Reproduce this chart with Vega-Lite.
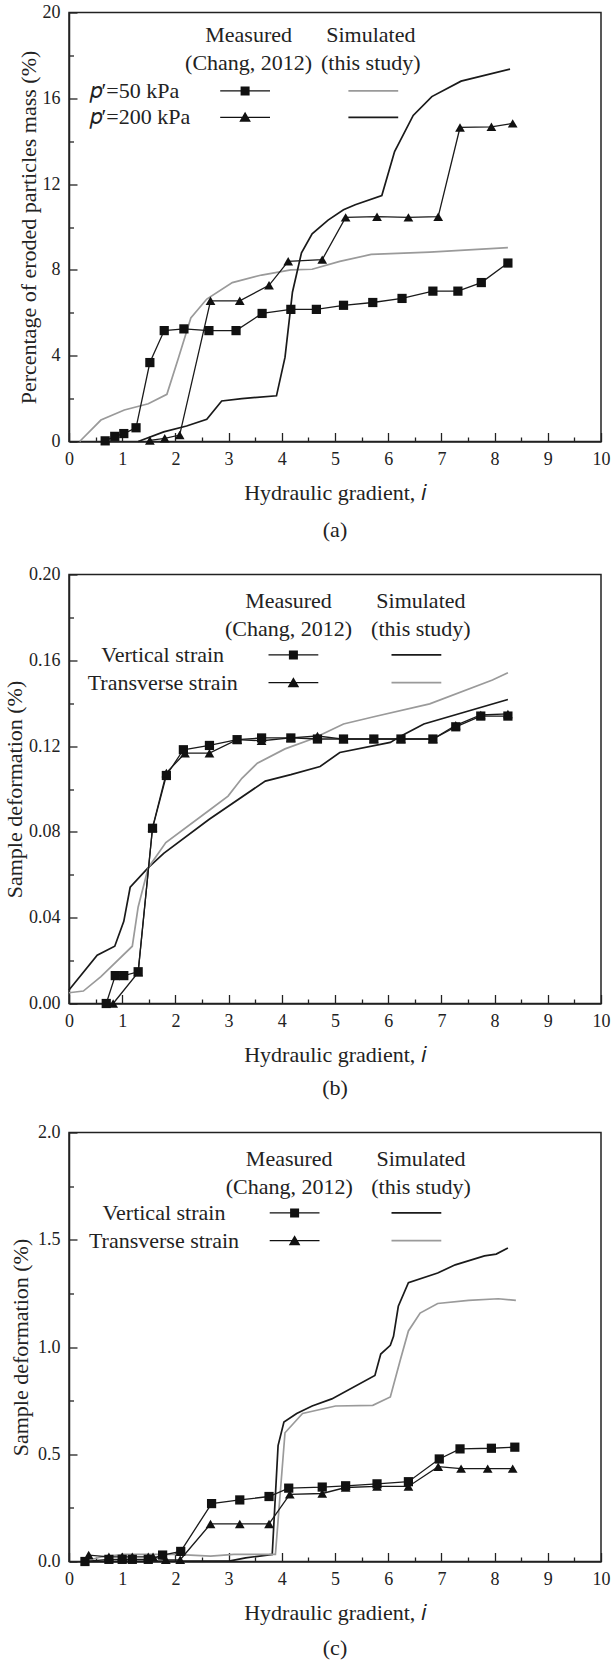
{
  "$schema": "https://vega.github.io/schema/vega-lite/v6.json",
  "background": "white",
  "padding": {"left": 2, "top": 2.5, "right": 0, "bottom": 0},
  "spacing": 23,
  "config": {
    "font": "Liberation Serif",
    "view": {"stroke": "#222", "strokeWidth": 1.5},
    "axis": {
      "labelFont": "Liberation Serif", "labelFontSize": 18, "labelColor": "#222",
      "titleFont": "Liberation Serif", "titleFontSize": 22, "titleFontWeight": "normal", "titleColor": "#222",
      "grid": false, "domainColor": "#222", "domainWidth": 1.5,
      "tickColor": "#222", "tickWidth": 1.3,
      "labelFlush": false, "labelOverlap": false
    },
    "axisX": {"tickSize": -9, "labelPadding": 18},
    "axisY": {"tickSize": -8, "labelPadding": 17},
    "legend": {
      "labelFont": "Liberation Serif", "labelFontSize": 22, "labelColor": "#222", "labelLimit": 300,
      "titleFont": "Liberation Serif", "titleFontSize": 22, "titleFontWeight": "normal", "titleColor": "#222",
      "padding": 0, "orient": "none", "symbolSize": 400
    },
    "title": {"font": "Liberation Serif", "fontSize": 22, "fontWeight": "normal", "color": "#222", "orient": "bottom", "offset": 14}
  },
  "resolve": {"scale": {"color": "independent", "shape": "independent", "strokeDash": "independent", "fill": "independent"}},
  "datasets": {
    "d": [
      {"panel":"a","kind":"sim","series":"𝑝′=50 kPa","x":0.2,"y":0},
      {"panel":"a","kind":"sim","series":"𝑝′=50 kPa","x":0.6,"y":1.0},
      {"panel":"a","kind":"sim","series":"𝑝′=50 kPa","x":1.04,"y":1.47},
      {"panel":"a","kind":"sim","series":"𝑝′=50 kPa","x":1.49,"y":1.76},
      {"panel":"a","kind":"sim","series":"𝑝′=50 kPa","x":1.84,"y":2.2},
      {"panel":"a","kind":"sim","series":"𝑝′=50 kPa","x":2.06,"y":3.92},
      {"panel":"a","kind":"sim","series":"𝑝′=50 kPa","x":2.29,"y":5.76},
      {"panel":"a","kind":"sim","series":"𝑝′=50 kPa","x":2.59,"y":6.64},
      {"panel":"a","kind":"sim","series":"𝑝′=50 kPa","x":3.07,"y":7.41},
      {"panel":"a","kind":"sim","series":"𝑝′=50 kPa","x":3.62,"y":7.76},
      {"panel":"a","kind":"sim","series":"𝑝′=50 kPa","x":4.17,"y":8.0},
      {"panel":"a","kind":"sim","series":"𝑝′=50 kPa","x":4.57,"y":8.03},
      {"panel":"a","kind":"sim","series":"𝑝′=50 kPa","x":5.09,"y":8.4},
      {"panel":"a","kind":"sim","series":"𝑝′=50 kPa","x":5.68,"y":8.72},
      {"panel":"a","kind":"sim","series":"𝑝′=50 kPa","x":6.78,"y":8.83},
      {"panel":"a","kind":"sim","series":"𝑝′=50 kPa","x":8.25,"y":9.04},
      {"panel":"a","kind":"sim","series":"𝑝′=200 kPa","x":1.3,"y":0},
      {"panel":"a","kind":"sim","series":"𝑝′=200 kPa","x":1.78,"y":0.45},
      {"panel":"a","kind":"sim","series":"𝑝′=200 kPa","x":2.21,"y":0.72},
      {"panel":"a","kind":"sim","series":"𝑝′=200 kPa","x":2.59,"y":1.04},
      {"panel":"a","kind":"sim","series":"𝑝′=200 kPa","x":2.87,"y":1.89},
      {"panel":"a","kind":"sim","series":"𝑝′=200 kPa","x":3.25,"y":2.0},
      {"panel":"a","kind":"sim","series":"𝑝′=200 kPa","x":3.9,"y":2.13},
      {"panel":"a","kind":"sim","series":"𝑝′=200 kPa","x":4.06,"y":3.92},
      {"panel":"a","kind":"sim","series":"𝑝′=200 kPa","x":4.2,"y":6.96},
      {"panel":"a","kind":"sim","series":"𝑝′=200 kPa","x":4.37,"y":8.8},
      {"panel":"a","kind":"sim","series":"𝑝′=200 kPa","x":4.57,"y":9.68},
      {"panel":"a","kind":"sim","series":"𝑝′=200 kPa","x":4.87,"y":10.32},
      {"panel":"a","kind":"sim","series":"𝑝′=200 kPa","x":5.16,"y":10.8},
      {"panel":"a","kind":"sim","series":"𝑝′=200 kPa","x":5.38,"y":11.04},
      {"panel":"a","kind":"sim","series":"𝑝′=200 kPa","x":5.88,"y":11.47},
      {"panel":"a","kind":"sim","series":"𝑝′=200 kPa","x":6.12,"y":13.52},
      {"panel":"a","kind":"sim","series":"𝑝′=200 kPa","x":6.47,"y":15.2},
      {"panel":"a","kind":"sim","series":"𝑝′=200 kPa","x":6.82,"y":16.08},
      {"panel":"a","kind":"sim","series":"𝑝′=200 kPa","x":7.37,"y":16.8},
      {"panel":"a","kind":"sim","series":"𝑝′=200 kPa","x":8.29,"y":17.36},
      {"panel":"a","kind":"meas","series":"𝑝′=50 kPa","x":0.68,"y":0.03},
      {"panel":"a","kind":"meas","series":"𝑝′=50 kPa","x":0.86,"y":0.24},
      {"panel":"a","kind":"meas","series":"𝑝′=50 kPa","x":1.03,"y":0.37},
      {"panel":"a","kind":"meas","series":"𝑝′=50 kPa","x":1.26,"y":0.64},
      {"panel":"a","kind":"meas","series":"𝑝′=50 kPa","x":1.52,"y":3.68},
      {"panel":"a","kind":"meas","series":"𝑝′=50 kPa","x":1.79,"y":5.17},
      {"panel":"a","kind":"meas","series":"𝑝′=50 kPa","x":2.16,"y":5.25},
      {"panel":"a","kind":"meas","series":"𝑝′=50 kPa","x":2.63,"y":5.17},
      {"panel":"a","kind":"meas","series":"𝑝′=50 kPa","x":3.14,"y":5.17},
      {"panel":"a","kind":"meas","series":"𝑝′=50 kPa","x":3.63,"y":5.97},
      {"panel":"a","kind":"meas","series":"𝑝′=50 kPa","x":4.17,"y":6.16},
      {"panel":"a","kind":"meas","series":"𝑝′=50 kPa","x":4.65,"y":6.16},
      {"panel":"a","kind":"meas","series":"𝑝′=50 kPa","x":5.16,"y":6.35},
      {"panel":"a","kind":"meas","series":"𝑝′=50 kPa","x":5.71,"y":6.48},
      {"panel":"a","kind":"meas","series":"𝑝′=50 kPa","x":6.26,"y":6.67},
      {"panel":"a","kind":"meas","series":"𝑝′=50 kPa","x":6.84,"y":7.01},
      {"panel":"a","kind":"meas","series":"𝑝′=50 kPa","x":7.31,"y":7.01},
      {"panel":"a","kind":"meas","series":"𝑝′=50 kPa","x":7.75,"y":7.41},
      {"panel":"a","kind":"meas","series":"𝑝′=50 kPa","x":8.25,"y":8.32},
      {"panel":"a","kind":"meas","series":"𝑝′=200 kPa","x":1.52,"y":0.05},
      {"panel":"a","kind":"meas","series":"𝑝′=200 kPa","x":1.8,"y":0.15},
      {"panel":"a","kind":"meas","series":"𝑝′=200 kPa","x":2.08,"y":0.3},
      {"panel":"a","kind":"meas","series":"𝑝′=200 kPa","x":2.66,"y":6.56},
      {"panel":"a","kind":"meas","series":"𝑝′=200 kPa","x":3.21,"y":6.56},
      {"panel":"a","kind":"meas","series":"𝑝′=200 kPa","x":3.76,"y":7.28},
      {"panel":"a","kind":"meas","series":"𝑝′=200 kPa","x":4.12,"y":8.4},
      {"panel":"a","kind":"meas","series":"𝑝′=200 kPa","x":4.76,"y":8.48},
      {"panel":"a","kind":"meas","series":"𝑝′=200 kPa","x":5.2,"y":10.45},
      {"panel":"a","kind":"meas","series":"𝑝′=200 kPa","x":5.79,"y":10.48},
      {"panel":"a","kind":"meas","series":"𝑝′=200 kPa","x":6.38,"y":10.45},
      {"panel":"a","kind":"meas","series":"𝑝′=200 kPa","x":6.94,"y":10.48},
      {"panel":"a","kind":"meas","series":"𝑝′=200 kPa","x":7.35,"y":14.64},
      {"panel":"a","kind":"meas","series":"𝑝′=200 kPa","x":7.94,"y":14.67},
      {"panel":"a","kind":"meas","series":"𝑝′=200 kPa","x":8.34,"y":14.83},

      {"panel":"b","kind":"sim","series":"Vertical strain","x":0,"y":0.0063},
      {"panel":"b","kind":"sim","series":"Vertical strain","x":0.53,"y":0.0225},
      {"panel":"b","kind":"sim","series":"Vertical strain","x":0.86,"y":0.0267},
      {"panel":"b","kind":"sim","series":"Vertical strain","x":1.03,"y":0.0383},
      {"panel":"b","kind":"sim","series":"Vertical strain","x":1.15,"y":0.0542},
      {"panel":"b","kind":"sim","series":"Vertical strain","x":1.49,"y":0.0633},
      {"panel":"b","kind":"sim","series":"Vertical strain","x":1.78,"y":0.07},
      {"panel":"b","kind":"sim","series":"Vertical strain","x":2.63,"y":0.0858},
      {"panel":"b","kind":"sim","series":"Vertical strain","x":3.69,"y":0.1037},
      {"panel":"b","kind":"sim","series":"Vertical strain","x":4.17,"y":0.1067},
      {"panel":"b","kind":"sim","series":"Vertical strain","x":4.72,"y":0.1105},
      {"panel":"b","kind":"sim","series":"Vertical strain","x":5.09,"y":0.117},
      {"panel":"b","kind":"sim","series":"Vertical strain","x":6.04,"y":0.1217},
      {"panel":"b","kind":"sim","series":"Vertical strain","x":6.26,"y":0.125},
      {"panel":"b","kind":"sim","series":"Vertical strain","x":6.67,"y":0.1303},
      {"panel":"b","kind":"sim","series":"Vertical strain","x":8.25,"y":0.1417},
      {"panel":"b","kind":"sim","series":"Transverse strain","x":0,"y":0.005},
      {"panel":"b","kind":"sim","series":"Transverse strain","x":0.27,"y":0.0058},
      {"panel":"b","kind":"sim","series":"Transverse strain","x":0.6,"y":0.0125},
      {"panel":"b","kind":"sim","series":"Transverse strain","x":1.19,"y":0.0267},
      {"panel":"b","kind":"sim","series":"Transverse strain","x":1.3,"y":0.045},
      {"panel":"b","kind":"sim","series":"Transverse strain","x":1.49,"y":0.0633},
      {"panel":"b","kind":"sim","series":"Transverse strain","x":1.82,"y":0.075},
      {"panel":"b","kind":"sim","series":"Transverse strain","x":2.63,"y":0.09},
      {"panel":"b","kind":"sim","series":"Transverse strain","x":2.99,"y":0.0967},
      {"panel":"b","kind":"sim","series":"Transverse strain","x":3.25,"y":0.105},
      {"panel":"b","kind":"sim","series":"Transverse strain","x":3.54,"y":0.112},
      {"panel":"b","kind":"sim","series":"Transverse strain","x":4.06,"y":0.1187},
      {"panel":"b","kind":"sim","series":"Transverse strain","x":4.57,"y":0.1233},
      {"panel":"b","kind":"sim","series":"Transverse strain","x":5.16,"y":0.1303},
      {"panel":"b","kind":"sim","series":"Transverse strain","x":5.75,"y":0.1338},
      {"panel":"b","kind":"sim","series":"Transverse strain","x":6.78,"y":0.1397},
      {"panel":"b","kind":"sim","series":"Transverse strain","x":7.96,"y":0.1508},
      {"panel":"b","kind":"sim","series":"Transverse strain","x":8.25,"y":0.1542},
      {"panel":"b","kind":"meas","series":"Vertical strain","x":0.7,"y":0},
      {"panel":"b","kind":"meas","series":"Vertical strain","x":0.87,"y":0.013},
      {"panel":"b","kind":"meas","series":"Vertical strain","x":1.03,"y":0.013},
      {"panel":"b","kind":"meas","series":"Vertical strain","x":1.3,"y":0.0148},
      {"panel":"b","kind":"meas","series":"Vertical strain","x":1.57,"y":0.0817},
      {"panel":"b","kind":"meas","series":"Vertical strain","x":1.83,"y":0.1063},
      {"panel":"b","kind":"meas","series":"Vertical strain","x":2.15,"y":0.1183},
      {"panel":"b","kind":"meas","series":"Vertical strain","x":2.64,"y":0.1203},
      {"panel":"b","kind":"meas","series":"Vertical strain","x":3.16,"y":0.123},
      {"panel":"b","kind":"meas","series":"Vertical strain","x":3.62,"y":0.1238},
      {"panel":"b","kind":"meas","series":"Vertical strain","x":4.17,"y":0.1238},
      {"panel":"b","kind":"meas","series":"Vertical strain","x":4.67,"y":0.1233},
      {"panel":"b","kind":"meas","series":"Vertical strain","x":5.16,"y":0.1233},
      {"panel":"b","kind":"meas","series":"Vertical strain","x":5.73,"y":0.1233},
      {"panel":"b","kind":"meas","series":"Vertical strain","x":6.24,"y":0.1233},
      {"panel":"b","kind":"meas","series":"Vertical strain","x":6.84,"y":0.1233},
      {"panel":"b","kind":"meas","series":"Vertical strain","x":7.27,"y":0.129},
      {"panel":"b","kind":"meas","series":"Vertical strain","x":7.74,"y":0.134},
      {"panel":"b","kind":"meas","series":"Vertical strain","x":8.25,"y":0.134},
      {"panel":"b","kind":"meas","series":"Transverse strain","x":0.83,"y":0},
      {"panel":"b","kind":"meas","series":"Transverse strain","x":1.3,"y":0.0145},
      {"panel":"b","kind":"meas","series":"Transverse strain","x":1.57,"y":0.082},
      {"panel":"b","kind":"meas","series":"Transverse strain","x":1.83,"y":0.1075},
      {"panel":"b","kind":"meas","series":"Transverse strain","x":2.18,"y":0.1167},
      {"panel":"b","kind":"meas","series":"Transverse strain","x":2.64,"y":0.1167},
      {"panel":"b","kind":"meas","series":"Transverse strain","x":3.16,"y":0.123},
      {"panel":"b","kind":"meas","series":"Transverse strain","x":3.62,"y":0.1225},
      {"panel":"b","kind":"meas","series":"Transverse strain","x":4.17,"y":0.1238},
      {"panel":"b","kind":"meas","series":"Transverse strain","x":4.67,"y":0.1247},
      {"panel":"b","kind":"meas","series":"Transverse strain","x":5.16,"y":0.1233},
      {"panel":"b","kind":"meas","series":"Transverse strain","x":5.73,"y":0.1233},
      {"panel":"b","kind":"meas","series":"Transverse strain","x":6.24,"y":0.1233},
      {"panel":"b","kind":"meas","series":"Transverse strain","x":6.84,"y":0.1233},
      {"panel":"b","kind":"meas","series":"Transverse strain","x":7.27,"y":0.1297},
      {"panel":"b","kind":"meas","series":"Transverse strain","x":7.74,"y":0.1345},
      {"panel":"b","kind":"meas","series":"Transverse strain","x":8.25,"y":0.135},

      {"panel":"c","kind":"sim","series":"Vertical strain","x":0.27,"y":0},
      {"panel":"c","kind":"sim","series":"Vertical strain","x":3.03,"y":0.003},
      {"panel":"c","kind":"sim","series":"Vertical strain","x":3.32,"y":0.017},
      {"panel":"c","kind":"sim","series":"Vertical strain","x":3.82,"y":0.033},
      {"panel":"c","kind":"sim","series":"Vertical strain","x":3.93,"y":0.54},
      {"panel":"c","kind":"sim","series":"Vertical strain","x":4.04,"y":0.65},
      {"panel":"c","kind":"sim","series":"Vertical strain","x":4.28,"y":0.69},
      {"panel":"c","kind":"sim","series":"Vertical strain","x":4.57,"y":0.725},
      {"panel":"c","kind":"sim","series":"Vertical strain","x":4.94,"y":0.758},
      {"panel":"c","kind":"sim","series":"Vertical strain","x":5.75,"y":0.867},
      {"panel":"c","kind":"sim","series":"Vertical strain","x":5.86,"y":0.967},
      {"panel":"c","kind":"sim","series":"Vertical strain","x":6.04,"y":1.008},
      {"panel":"c","kind":"sim","series":"Vertical strain","x":6.1,"y":1.05},
      {"panel":"c","kind":"sim","series":"Vertical strain","x":6.19,"y":1.19},
      {"panel":"c","kind":"sim","series":"Vertical strain","x":6.38,"y":1.3},
      {"panel":"c","kind":"sim","series":"Vertical strain","x":6.93,"y":1.345},
      {"panel":"c","kind":"sim","series":"Vertical strain","x":7.26,"y":1.383},
      {"panel":"c","kind":"sim","series":"Vertical strain","x":7.81,"y":1.425},
      {"panel":"c","kind":"sim","series":"Vertical strain","x":8.03,"y":1.433},
      {"panel":"c","kind":"sim","series":"Vertical strain","x":8.25,"y":1.462},
      {"panel":"c","kind":"sim","series":"Transverse strain","x":0.27,"y":0},
      {"panel":"c","kind":"sim","series":"Transverse strain","x":0.62,"y":0.022},
      {"panel":"c","kind":"sim","series":"Transverse strain","x":1.04,"y":0.033},
      {"panel":"c","kind":"sim","series":"Transverse strain","x":2.0,"y":0.033},
      {"panel":"c","kind":"sim","series":"Transverse strain","x":2.66,"y":0.025},
      {"panel":"c","kind":"sim","series":"Transverse strain","x":3.1,"y":0.033},
      {"panel":"c","kind":"sim","series":"Transverse strain","x":3.88,"y":0.033},
      {"panel":"c","kind":"sim","series":"Transverse strain","x":4.06,"y":0.6},
      {"panel":"c","kind":"sim","series":"Transverse strain","x":4.39,"y":0.69},
      {"panel":"c","kind":"sim","series":"Transverse strain","x":5.01,"y":0.725},
      {"panel":"c","kind":"sim","series":"Transverse strain","x":5.71,"y":0.728},
      {"panel":"c","kind":"sim","series":"Transverse strain","x":6.04,"y":0.767},
      {"panel":"c","kind":"sim","series":"Transverse strain","x":6.23,"y":0.942},
      {"panel":"c","kind":"sim","series":"Transverse strain","x":6.38,"y":1.075},
      {"panel":"c","kind":"sim","series":"Transverse strain","x":6.6,"y":1.158},
      {"panel":"c","kind":"sim","series":"Transverse strain","x":6.93,"y":1.203},
      {"panel":"c","kind":"sim","series":"Transverse strain","x":7.51,"y":1.217},
      {"panel":"c","kind":"sim","series":"Transverse strain","x":8.07,"y":1.225},
      {"panel":"c","kind":"sim","series":"Transverse strain","x":8.4,"y":1.217},
      {"panel":"c","kind":"meas","series":"Vertical strain","x":0.3,"y":0.0},
      {"panel":"c","kind":"meas","series":"Vertical strain","x":0.75,"y":0.01},
      {"panel":"c","kind":"meas","series":"Vertical strain","x":1.0,"y":0.01},
      {"panel":"c","kind":"meas","series":"Vertical strain","x":1.19,"y":0.01},
      {"panel":"c","kind":"meas","series":"Vertical strain","x":1.49,"y":0.01},
      {"panel":"c","kind":"meas","series":"Vertical strain","x":1.76,"y":0.03},
      {"panel":"c","kind":"meas","series":"Vertical strain","x":2.1,"y":0.047},
      {"panel":"c","kind":"meas","series":"Vertical strain","x":2.68,"y":0.27},
      {"panel":"c","kind":"meas","series":"Vertical strain","x":3.21,"y":0.287},
      {"panel":"c","kind":"meas","series":"Vertical strain","x":3.76,"y":0.303},
      {"panel":"c","kind":"meas","series":"Vertical strain","x":4.13,"y":0.342},
      {"panel":"c","kind":"meas","series":"Vertical strain","x":4.76,"y":0.347},
      {"panel":"c","kind":"meas","series":"Vertical strain","x":5.2,"y":0.353},
      {"panel":"c","kind":"meas","series":"Vertical strain","x":5.79,"y":0.362},
      {"panel":"c","kind":"meas","series":"Vertical strain","x":6.38,"y":0.372},
      {"panel":"c","kind":"meas","series":"Vertical strain","x":6.96,"y":0.478},
      {"panel":"c","kind":"meas","series":"Vertical strain","x":7.35,"y":0.525},
      {"panel":"c","kind":"meas","series":"Vertical strain","x":7.94,"y":0.528},
      {"panel":"c","kind":"meas","series":"Vertical strain","x":8.38,"y":0.533},
      {"panel":"c","kind":"meas","series":"Transverse strain","x":0.37,"y":0.03},
      {"panel":"c","kind":"meas","series":"Transverse strain","x":0.75,"y":0.022},
      {"panel":"c","kind":"meas","series":"Transverse strain","x":1.0,"y":0.022},
      {"panel":"c","kind":"meas","series":"Transverse strain","x":1.19,"y":0.022},
      {"panel":"c","kind":"meas","series":"Transverse strain","x":1.49,"y":0.022},
      {"panel":"c","kind":"meas","series":"Transverse strain","x":1.58,"y":0.022},
      {"panel":"c","kind":"meas","series":"Transverse strain","x":1.82,"y":0.008},
      {"panel":"c","kind":"meas","series":"Transverse strain","x":2.09,"y":0.008},
      {"panel":"c","kind":"meas","series":"Transverse strain","x":2.66,"y":0.175},
      {"panel":"c","kind":"meas","series":"Transverse strain","x":3.21,"y":0.175},
      {"panel":"c","kind":"meas","series":"Transverse strain","x":3.76,"y":0.175},
      {"panel":"c","kind":"meas","series":"Transverse strain","x":4.15,"y":0.313},
      {"panel":"c","kind":"meas","series":"Transverse strain","x":4.76,"y":0.317},
      {"panel":"c","kind":"meas","series":"Transverse strain","x":5.2,"y":0.345},
      {"panel":"c","kind":"meas","series":"Transverse strain","x":5.79,"y":0.35},
      {"panel":"c","kind":"meas","series":"Transverse strain","x":6.38,"y":0.35},
      {"panel":"c","kind":"meas","series":"Transverse strain","x":6.94,"y":0.442},
      {"panel":"c","kind":"meas","series":"Transverse strain","x":7.37,"y":0.433},
      {"panel":"c","kind":"meas","series":"Transverse strain","x":7.87,"y":0.433},
      {"panel":"c","kind":"meas","series":"Transverse strain","x":8.34,"y":0.433}
    ]
  },
  "data": {"name": "d"},
  "vconcat": [
    {
      "width": 532, "height": 429,
      "title": {"text": "(a)", "offset": 16},
      "transform": [{"filter": "datum.panel === 'a'"}],
      "encoding": {
        "x": {"field": "x", "type": "quantitative", "scale": {"domain": [0, 10], "nice": false},
          "axis": {"title": "Hydraulic gradient, 𝑖", "titlePadding": 14, "format": ".0f",
            "values": [0,0.5,1,1.5,2,2.5,3,3.5,4,4.5,5,5.5,6,6.5,7,7.5,8,8.5,9,9.5,10],
            "labelExpr": "datum.value % 1 === 0 ? datum.label : ''",
            "tickDash": {"condition": {"test": "datum.value % 1 !== 0", "value": [4.5, 30]}, "value": []}}},
        "y": {"field": "y", "type": "quantitative", "scale": {"domain": [0, 20], "nice": false},
          "axis": {"title": "Percentage of eroded particles mass (%)", "titlePadding": 2, "format": ".0f",
            "values": [0,2,4,6,8,10,12,14,16,18,20],
            "labelExpr": "datum.value % 4 === 0 ? datum.label : ''",
            "tickDash": {"condition": {"test": "datum.value % 4 !== 0", "value": [4.5, 30]}, "value": []}}}
      },
      "layer": [
        {
          "transform": [{"filter": "datum.kind === 'sim'"}],
          "mark": {"type": "line", "strokeWidth": 1.7},
          "encoding": {
            "color": {"field": "series", "type": "nominal",
              "scale": {"domain": ["𝑝′=200 kPa", "𝑝′=50 kPa"], "range": ["#1a1a1a", "#9a9a9a"]},
              "legend": {"legendX": 293.3, "legendY": 67.4, "title": null,
                "values": ["𝑝′=50 kPa", "𝑝′=200 kPa"], "rowPadding": 4.4,
                "symbolType": "M-2.49,0H2.49", "symbolStrokeWidth": 1.7,
                "labelExpr": "'.'", "labelOpacity": 0, "labelAlign": "center", "labelOffset": -11}
            }
          }
        },
        {
          "transform": [{"filter": "datum.kind === 'meas'"}],
          "mark": {"type": "line", "strokeWidth": 1.3, "color": "#1a1a1a"},
          "encoding": {"detail": {"field": "series"}}
        },
        {
          "transform": [{"filter": "datum.kind === 'meas' && datum.series === '𝑝′=50 kPa'"}],
          "mark": {"type": "point", "shape": "square", "filled": true, "opacity": 1, "color": "#111", "size": 85}
        },
        {
          "transform": [{"filter": "datum.kind === 'meas' && datum.series === '𝑝′=200 kPa'"}],
          "mark": {"type": "point", "shape": "triangle-up", "filled": true, "opacity": 1, "color": "#111", "size": 95}
        },
        {
          "transform": [{"filter": "false"}],
          "mark": {"type": "point", "filled": true, "opacity": 1, "color": "#111", "size": 400},
          "encoding": {
            "shape": {"field": "series", "type": "nominal",
              "scale": {"domain": ["𝑝′=50 kPa", "𝑝′=200 kPa"],
                "range": ["M-2.49,-0.065H2.49V0.065H-2.49ZM-0.45,-0.45H0.45V0.45H-0.45Z", "M-2.49,-0.065H2.49V0.065H-2.49ZM0,-0.55L0.58,0.45H-0.58Z"]},
              "legend": {"legendX": 165.1, "legendY": 67.4, "title": null, "rowPadding": 4.4,
                "labelAlign": "left", "labelOffset": -166.6}
            }
          }
        },
        {
          "transform": [{"filter": "false"}],
          "mark": {"type": "line", "color": "#111"},
          "encoding": {
            "strokeDash": {"field": "series", "type": "nominal",
              "scale": {"domain": ["Measured", "(Chang, 2012)"], "range": [[1, 0], [2, 0]]},
              "legend": {"legendX": 157.6, "legendY": 11.3, "title": null, "rowPadding": 5.8,
                "symbolOpacity": 0, "labelAlign": "center", "labelOffset": 0}
            }
          }
        },
        {
          "transform": [{"filter": "false"}],
          "mark": {"type": "point", "filled": true},
          "encoding": {
            "fill": {"field": "series", "type": "nominal",
              "scale": {"domain": ["Simulated", "(this study)"], "range": ["#ffffff", "#fffffe"]},
              "legend": {"legendX": 279.8, "legendY": 11.3, "title": null, "rowPadding": 5.8,
                "symbolOpacity": 0, "labelAlign": "center", "labelOffset": 0}
            }
          }
        }
      ]
    },
    {
      "width": 532, "height": 429,
      "title": {"text": "(b)", "offset": 12},
      "transform": [{"filter": "datum.panel === 'b'"}],
      "encoding": {
        "x": {"field": "x", "type": "quantitative", "scale": {"domain": [0, 10], "nice": false},
          "axis": {"title": "Hydraulic gradient, 𝑖", "titlePadding": 14, "format": ".0f",
            "values": [0,0.5,1,1.5,2,2.5,3,3.5,4,4.5,5,5.5,6,6.5,7,7.5,8,8.5,9,9.5,10],
            "labelExpr": "datum.value % 1 === 0 ? datum.label : ''",
            "tickDash": {"condition": {"test": "datum.value % 1 !== 0", "value": [4.5, 30]}, "value": []}}},
        "y": {"field": "y", "type": "quantitative", "scale": {"domain": [0, 0.2], "nice": false},
          "axis": {"title": "Sample deformation (%)", "titlePadding": 2, "format": ".2f",
            "values": [0,0.02,0.04,0.06,0.08,0.1,0.12,0.14,0.16,0.18,0.2],
            "labelExpr": "round(datum.value * 100) % 4 === 0 ? datum.label : ''",
            "tickDash": {"condition": {"test": "round(datum.value * 100) % 4 !== 0", "value": [4.5, 30]}, "value": []}}}
      },
      "layer": [
        {
          "transform": [{"filter": "datum.kind === 'sim'"}],
          "mark": {"type": "line", "strokeWidth": 1.7},
          "encoding": {
            "color": {"field": "series", "type": "nominal",
              "scale": {"domain": ["Transverse strain", "Vertical strain"], "range": ["#9a9a9a", "#1a1a1a"]},
              "legend": {"legendX": 336.4, "legendY": 69.4, "title": null,
                "values": ["Vertical strain", "Transverse strain"], "rowPadding": 5.8,
                "symbolType": "M-2.49,0H2.49", "symbolStrokeWidth": 1.7,
                "labelExpr": "'.'", "labelOpacity": 0, "labelAlign": "center", "labelOffset": -11}
            }
          }
        },
        {
          "transform": [{"filter": "datum.kind === 'meas'"}],
          "mark": {"type": "line", "strokeWidth": 1.3, "color": "#1a1a1a"},
          "encoding": {"detail": {"field": "series"}}
        },
        {
          "transform": [{"filter": "datum.kind === 'meas' && datum.series === 'Vertical strain'"}],
          "mark": {"type": "point", "shape": "square", "filled": true, "opacity": 1, "color": "#111", "size": 85}
        },
        {
          "transform": [{"filter": "datum.kind === 'meas' && datum.series === 'Transverse strain'"}],
          "mark": {"type": "point", "shape": "triangle-up", "filled": true, "opacity": 1, "color": "#111", "size": 95}
        },
        {
          "transform": [{"filter": "false"}],
          "mark": {"type": "point", "filled": true, "opacity": 1, "color": "#111", "size": 400},
          "encoding": {
            "shape": {"field": "series", "type": "nominal",
              "scale": {"domain": ["Vertical strain", "Transverse strain"],
                "range": ["M-2.49,-0.065H2.49V0.065H-2.49ZM-0.45,-0.45H0.45V0.45H-0.45Z", "M-2.49,-0.065H2.49V0.065H-2.49ZM0,-0.55L0.58,0.45H-0.58Z"]},
              "legend": {"legendX": 213.4, "legendY": 69.4, "title": null, "rowPadding": 5.8,
                "labelAlign": "center", "labelOffset": -141.7}
            }
          }
        },
        {
          "transform": [{"filter": "false"}],
          "mark": {"type": "line", "color": "#111"},
          "encoding": {
            "strokeDash": {"field": "series", "type": "nominal",
              "scale": {"domain": ["Measured", "(Chang, 2012)"], "range": [[1, 0], [2, 0]]},
              "legend": {"legendX": 197.5, "legendY": 15.8, "title": null, "rowPadding": 5.2,
                "symbolOpacity": 0, "labelAlign": "center", "labelOffset": 0}
            }
          }
        },
        {
          "transform": [{"filter": "false"}],
          "mark": {"type": "point", "filled": true},
          "encoding": {
            "fill": {"field": "series", "type": "nominal",
              "scale": {"domain": ["Simulated", "(this study)"], "range": ["#ffffff", "#fffffe"]},
              "legend": {"legendX": 329.9, "legendY": 15.8, "title": null, "rowPadding": 5.2,
                "symbolOpacity": 0, "labelAlign": "center", "labelOffset": 0}
            }
          }
        }
      ]
    },
    {
      "width": 532, "height": 429,
      "title": {"text": "(c)", "offset": 14},
      "transform": [{"filter": "datum.panel === 'c'"}],
      "encoding": {
        "x": {"field": "x", "type": "quantitative", "scale": {"domain": [0, 10], "nice": false},
          "axis": {"title": "Hydraulic gradient, 𝑖", "titlePadding": 14, "format": ".0f",
            "values": [0,0.5,1,1.5,2,2.5,3,3.5,4,4.5,5,5.5,6,6.5,7,7.5,8,8.5,9,9.5,10],
            "labelExpr": "datum.value % 1 === 0 ? datum.label : ''",
            "tickDash": {"condition": {"test": "datum.value % 1 !== 0", "value": [4.5, 30]}, "value": []}}},
        "y": {"field": "y", "type": "quantitative", "scale": {"domain": [0, 2], "nice": false},
          "axis": {"title": "Sample deformation (%)", "titlePadding": 5, "format": ".1f",
            "values": [0,0.25,0.5,0.75,1,1.25,1.5,1.75,2],
            "labelExpr": "round(datum.value * 4) % 2 === 0 ? datum.label : ''",
            "tickDash": {"condition": {"test": "round(datum.value * 4) % 2 !== 0", "value": [4.5, 30]}, "value": []}}}
      },
      "layer": [
        {
          "transform": [{"filter": "datum.kind === 'sim'"}],
          "mark": {"type": "line", "strokeWidth": 1.7},
          "encoding": {
            "color": {"field": "series", "type": "nominal",
              "scale": {"domain": ["Transverse strain", "Vertical strain"], "range": ["#9a9a9a", "#1a1a1a"]},
              "legend": {"legendX": 336.4, "legendY": 69.4, "title": null,
                "values": ["Vertical strain", "Transverse strain"], "rowPadding": 5.8,
                "symbolType": "M-2.49,0H2.49", "symbolStrokeWidth": 1.7,
                "labelExpr": "'.'", "labelOpacity": 0, "labelAlign": "center", "labelOffset": -11}
            }
          }
        },
        {
          "transform": [{"filter": "datum.kind === 'meas'"}],
          "mark": {"type": "line", "strokeWidth": 1.3, "color": "#1a1a1a"},
          "encoding": {"detail": {"field": "series"}}
        },
        {
          "transform": [{"filter": "datum.kind === 'meas' && datum.series === 'Vertical strain'"}],
          "mark": {"type": "point", "shape": "square", "filled": true, "opacity": 1, "color": "#111", "size": 85}
        },
        {
          "transform": [{"filter": "datum.kind === 'meas' && datum.series === 'Transverse strain'"}],
          "mark": {"type": "point", "shape": "triangle-up", "filled": true, "opacity": 1, "color": "#111", "size": 95}
        },
        {
          "transform": [{"filter": "false"}],
          "mark": {"type": "point", "filled": true, "opacity": 1, "color": "#111", "size": 400},
          "encoding": {
            "shape": {"field": "series", "type": "nominal",
              "scale": {"domain": ["Vertical strain", "Transverse strain"],
                "range": ["M-2.49,-0.065H2.49V0.065H-2.49ZM-0.45,-0.45H0.45V0.45H-0.45Z", "M-2.49,-0.065H2.49V0.065H-2.49ZM0,-0.55L0.58,0.45H-0.58Z"]},
              "legend": {"legendX": 214.6, "legendY": 69.4, "title": null, "rowPadding": 5.8,
                "labelAlign": "center", "labelOffset": -141.6}
            }
          }
        },
        {
          "transform": [{"filter": "false"}],
          "mark": {"type": "line", "color": "#111"},
          "encoding": {
            "strokeDash": {"field": "series", "type": "nominal",
              "scale": {"domain": ["Measured", "(Chang, 2012)"], "range": [[1, 0], [2, 0]]},
              "legend": {"legendX": 198.2, "legendY": 15.8, "title": null, "rowPadding": 5.6,
                "symbolOpacity": 0, "labelAlign": "center", "labelOffset": 0}
            }
          }
        },
        {
          "transform": [{"filter": "false"}],
          "mark": {"type": "point", "filled": true},
          "encoding": {
            "fill": {"field": "series", "type": "nominal",
              "scale": {"domain": ["Simulated", "(this study)"], "range": ["#ffffff", "#fffffe"]},
              "legend": {"legendX": 330, "legendY": 15.8, "title": null, "rowPadding": 5.6,
                "symbolOpacity": 0, "labelAlign": "center", "labelOffset": 0}
            }
          }
        }
      ]
    }
  ]
}
